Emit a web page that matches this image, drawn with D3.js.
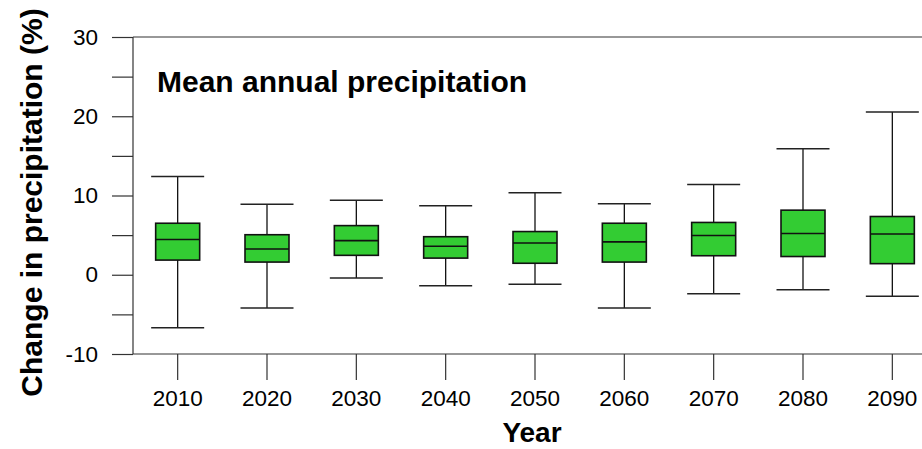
<!DOCTYPE html>
<html>
<head>
<meta charset="utf-8">
<script src="https://cdn.jsdelivr.net/npm/d3@7"></script>
<style>
  html, body { margin: 0; padding: 0; background: #fff; }
  svg text { font-family: "Liberation Sans", Arial, Helvetica, sans-serif; fill: #000; }
</style>
</head>
<body>
<svg id="chart" width="922" height="449"></svg>
<script>
// Projected change in mean annual precipitation (%) by decade
const years = ["2010", "2020", "2030", "2040", "2050", "2060", "2070", "2080", "2090"];
const whiskerLow  = [-6.7, -4.2, -0.4, -1.4, -1.2, -4.2, -2.4, -1.9, -2.7];
const quartile1   = [1.85, 1.6, 2.45, 2.1, 1.45, 1.6, 2.4, 2.3, 1.4];
const medians     = [4.45, 3.25, 4.3, 3.6, 4.0, 4.15, 4.95, 5.2, 5.15];
const quartile3   = [6.5, 5.05, 6.2, 4.8, 5.45, 6.5, 6.6, 8.15, 7.35];
const whiskerHigh = [12.4, 8.9, 9.4, 8.7, 10.35, 8.95, 11.4, 15.9, 20.55];
const yTicks = [-10, -5, 0, 5, 10, 15, 20, 25, 30];
const yLabelTicks = [-10, 0, 10, 20, 30];

const svg = d3.select("#chart");
const plot = { left: 133, right: 937, top: 37, bottom: 354 };

const x = d3.scaleBand().domain(years).range([plot.left, plot.right]);
const y = d3.scaleLinear().domain([-10, 30]).range([plot.bottom, plot.top]);

const axisColor = "#333";
const tickLen = 21;

// Y axis: minor ticks every 5, labels every 10 (plain hyphen for negatives)
const yAxis = svg.append("g")
  .attr("transform", `translate(${plot.left},0)`)
  .call(d3.axisLeft(y).tickValues(yTicks).tickSize(tickLen).tickPadding(14)
        .tickFormat(d => yLabelTicks.includes(d) ? String(d) : ""));
yAxis.select(".domain").remove();
yAxis.selectAll(".tick line").attr("stroke", axisColor).attr("stroke-width", 1.2);
yAxis.selectAll(".tick text").attr("font-size", 22.5).attr("fill", "#000");
svg.append("line")
  .attr("x1", plot.left).attr("x2", plot.left)
  .attr("y1", y(30)).attr("y2", y(-10))
  .attr("stroke", axisColor).attr("stroke-width", 1.2);

// Top and bottom frame lines
[30, -10].forEach(v => {
  svg.append("line")
    .attr("x1", plot.left).attr("x2", 922)
    .attr("y1", y(v)).attr("y2", y(v))
    .attr("stroke", axisColor).attr("stroke-width", 1.2);
});

// X axis: ticks hang below the frame
const xAxis = svg.append("g")
  .attr("transform", `translate(0,${plot.bottom})`)
  .call(d3.axisBottom(x).tickSize(26).tickPadding(10));
xAxis.select(".domain").remove();
xAxis.selectAll(".tick line").attr("stroke", axisColor).attr("stroke-width", 1.2);
xAxis.selectAll(".tick text").attr("font-size", 22.5).attr("fill", "#000");

// Box plots
const boxW = 44, capW = 53;
const rows = years.map((yr, i) => ({
  yr, lo: whiskerLow[i], q1: quartile1[i], med: medians[i], q3: quartile3[i], hi: whiskerHigh[i]
}));
const g = svg.append("g");
const cx = d => x(d.yr) + x.bandwidth() / 2;

g.selectAll(".whisker").data(rows).join("line")
  .attr("x1", cx).attr("x2", cx)
  .attr("y1", d => y(d.hi)).attr("y2", d => y(d.lo))
  .attr("stroke", "#111").attr("stroke-width", 1.3);
["lo", "hi"].forEach(k => {
  g.selectAll(".cap-" + k).data(rows).join("line")
    .attr("x1", d => cx(d) - capW / 2).attr("x2", d => cx(d) + capW / 2)
    .attr("y1", d => y(d[k])).attr("y2", d => y(d[k]))
    .attr("stroke", "#222").attr("stroke-width", 1.5);
});
g.selectAll(".box").data(rows).join("rect")
  .attr("x", d => cx(d) - boxW / 2).attr("width", boxW)
  .attr("y", d => y(d.q3)).attr("height", d => y(d.q1) - y(d.q3))
  .attr("fill", "#33cc33").attr("stroke", "#111").attr("stroke-width", 1.6);
g.selectAll(".median").data(rows).join("line")
  .attr("x1", d => cx(d) - boxW / 2).attr("x2", d => cx(d) + boxW / 2)
  .attr("y1", d => y(d.med)).attr("y2", d => y(d.med))
  .attr("stroke", "#111").attr("stroke-width", 1.6);

// Titles
svg.append("text")
  .attr("x", 157).attr("y", 92)
  .attr("font-size", 30).attr("font-weight", "bold")
  .text("Mean annual precipitation");
svg.append("text")
  .attr("x", 532).attr("y", 442).attr("text-anchor", "middle")
  .attr("font-size", 28).attr("font-weight", "bold")
  .text("Year");
svg.append("text")
  .attr("transform", `translate(41.5,${202.5}) rotate(-90)`)
  .attr("text-anchor", "middle")
  .attr("font-size", 30).attr("font-weight", "bold")
  .text("Change in precipitation (%)");
</script>
</body>
</html>
